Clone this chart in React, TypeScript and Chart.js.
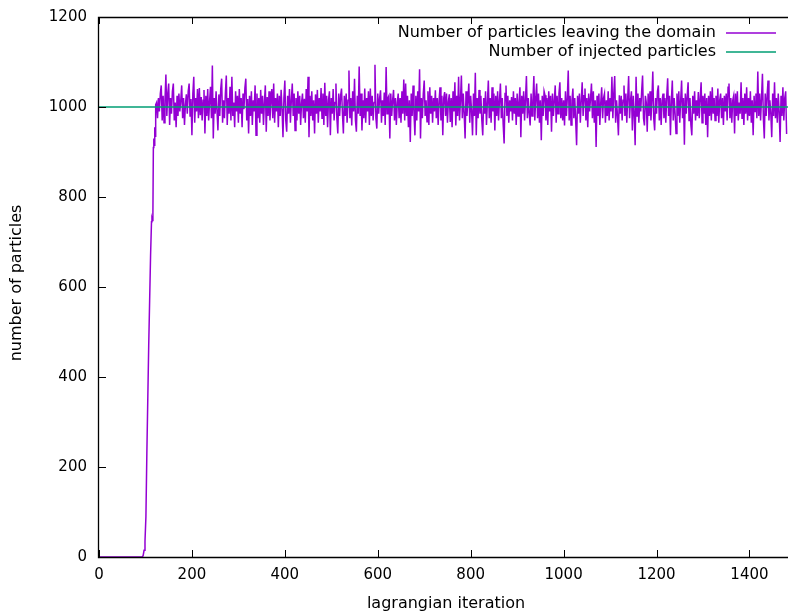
import React, { useEffect, useRef } from "react";
import { Chart, registerables } from "chart.js";

Chart.register(...registerables);

// Axis ticks
const xTicks = [0, 200, 400, 600, 800, 1000, 1200, 1400];
const yTicks = [0, 200, 400, 600, 800, 1000, 1200];
const xMax = 1483;

// Legend / axis texts
const seriesLeaving = "Number of particles leaving the domain";
const seriesInjected = "Number of injected particles";
const xTitle = "lagrangian iteration";
const yTitle = "number of particles";

// Injected particles (constant)
const injectedX = [0, 1483];
const injectedY = [1000, 1000];

// Start-up ramp of particles leaving the domain
const rampX = [0, 93, 95, 97, 99, 101, 103, 105, 107, 109, 111, 113, 114, 115, 116, 117, 118, 119, 120, 121, 122];
const rampY = [0, 0, 3, 15, 35, 90, 230, 350, 470, 570, 670, 745, 752, 748, 760, 910, 930, 915, 955, 935, 1005];

// Fluctuation around 1000 after the ramp, one value every 2 iterations from 124
const noiseStart = 124;
const noiseStep = 2;
const dev124 = [10,-25,20,-10,30,48,-30,25,-35,15,72,-20,30,52,-40,20,-15,35,52,-30,10,-45,25,-20,30,-10,15,48,-25,20,-40,5,28,-15,35,52,-20,18,-63,30,67,-35,20,-10,40,-25,42,-18,22,-30];
const dev224 = [15,38,-59,25,-20,40,-30,12,45,-25,92,-70,20,-15,35,-10,-52,28,-20,40,63,-35,15,-25,30,70,-40,20,-15,45,-30,67,-20,10,-45,35,-10,25,-35,40,-15,20,-45,30,-5,42,63,-30,18,-59];
const dev324 = [25,-20,35,-40,15,-10,48,-63,30,-25,20,-35,38,-15,25,-40,10,48,-55,22,-20,35,-30,15,40,-25,52,-35,20,-10,30,-45,25,-20,38,-5,-67,20,59,-30,-55,25,-15,40,-35,15,52,-20,30,-52];
const dev424 = [20,-30,35,-15,25,-40,10,30,-25,18,-35,40,-10,67,-67,25,-20,35,-30,15,-59,28,-15,38,-35,20,-10,42,-25,30,-40,54,-20,25,-45,15,35,-63,20,-15,40,-30,10,52,-25,-59,30,-20,25,41];
const dev524 = [-15,-59,25,-20,30,-35,15,81,-25,20,-41,35,-10,63,-30,-55,25,-15,90,-20,30,-52,15,-25,41,-35,20,-10,35,-40,41,-20,25,-30,10,94,-25,-48,30,-15,20,37,-35,15,-20,32,-40,89,-15,20];
const dev624 = [25,-70,30,-20,15,38,-30,20,-40,10,30,-25,20,-35,35,-15,61,-30,52,-20,25,-45,15,-78,30,-20,48,-15,-63,25,-30,35,-10,84,-70,20,-25,30,59,-20,15,-33,35,-40,44,-15,25,-35,20,-10];
const dev724 = [37,-25,20,-40,15,44,-30,25,-63,20,33,-20,30,-35,12,28,-33,20,-45,35,-10,55,-41,25,-20,67,-30,15,70,-25,30,-15,-70,35,-20,15,52,-35,25,-10,-63,30,-20,76,-63,20,-25,38,-15,25];
const dev824 = [-30,-63,20,-15,35,-40,10,59,-25,20,-35,44,-10,30,-52,25,-20,35,-30,15,52,-25,20,-40,-81,30,48,-20,25,-35,15,-10,22,-30,35,-15,20,-40,30,-20,10,44,-67,25,-15,35,-30,18,69,-25];
const dev924 = [20,-15,-41,30,-20,15,69,-30,20,52,-25,30,-35,15,-74,25,-20,35,26,-30,20,-40,35,-10,25,-55,30,-20,15,48,-35,25,-15,30,55,-25,20,-30,15,-41,35,-20,20,81,-30,25,-40,15,41,-25];
const dev1024 = [20,-30,-85,25,-15,30,-35,15,55,-20,25,41,-30,20,-45,30,-10,20,52,-25,35,-35,15,-89,25,-20,30,-40,10,44,-25,20,30,-35,15,-20,35,-30,20,-10,67,-25,30,69,-35,15,-20,-63,26,-15];
const dev1124 = [25,-30,15,48,-20,30,-35,20,69,-25,15,35,-52,25,-15,-85,67,-20,30,-35,20,-10,35,70,-25,-41,25,10,-55,30,-20,35,-30,15,79,-25,-52,20,-15,35,48,-30,20,-40,15,30,-25,20,-35,25];
const dev1224 = [64,-20,25,-63,15,59,-30,20,-15,-59,30,-20,35,-35,15,59,-25,20,-84,30,-15,25,55,-30,20,-40,-63,25,-15,35,-30,15,-20,33,-25,20,55,-35,25,-15,30,-40,20,-67,25,-20,35,-30,44,-15];
const dev1324 = [20,-30,25,-20,41,-35,15,30,-25,20,-40,25,-10,30,-30,44,52,-25,20,-35,15,25,-59,30,-20,35,-30,10,-15,55,-25,20,-40,30,-15,44,-30,20,-20,35,-35,15,-63,25,-10,30,-25,79,-20,30];
const dev1424 = [-30,20,74,-25,-70,30,-20,25,59,-30,15,-15,-67,30,-20,55,-25,20,-35,30,-10,-78,25,-20,44,-30,20,35,-60];

const deviations = [
  ...dev124, ...dev224, ...dev324, ...dev424, ...dev524, ...dev624, ...dev724,
  ...dev824, ...dev924, ...dev1024, ...dev1124, ...dev1224, ...dev1324, ...dev1424,
];

const FONT = "'DejaVu Sans', sans-serif";
const PURPLE = "#9400d3";
const GREEN = "#009e73";

const framePlugin = {
  id: "gnuplotFrame",
  afterDatasetsDraw(chart: any) {
    const { ctx, chartArea: a, scales } = chart;
    const xs = scales.x;
    const ys = scales.y;
    ctx.save();
    ctx.strokeStyle = "#000";
    ctx.lineWidth = 1.3;
    ctx.beginPath();
    // border: top, left, bottom
    ctx.moveTo(chart.width, a.top + 0.5);
    ctx.lineTo(a.left - 0.5, a.top + 0.5);
    ctx.lineTo(a.left - 0.5, a.bottom + 0.5);
    ctx.lineTo(chart.width, a.bottom + 0.5);
    ctx.stroke();
    ctx.lineWidth = 1;
    ctx.beginPath();
    for (const v of xTicks) {
      const px = Math.round(xs.getPixelForValue(v)) + 0.5;
      ctx.moveTo(px, a.bottom);
      ctx.lineTo(px, a.bottom - 7);
      ctx.moveTo(px, a.top);
      ctx.lineTo(px, a.top + 7);
    }
    for (const v of yTicks) {
      const py = Math.round(ys.getPixelForValue(v)) + 0.5;
      ctx.moveTo(a.left, py);
      ctx.lineTo(a.left + 7, py);
    }
    ctx.stroke();

    // legend (gnuplot style, top right inside the plot)
    ctx.font = `16px ${FONT}`;
    ctx.textAlign = "right";
    ctx.textBaseline = "middle";
    const rows = [
      { label: seriesLeaving, color: PURPLE, y: 33 },
      { label: seriesInjected, color: GREEN, y: 52 },
    ];
    for (const r of rows) {
      ctx.fillStyle = "#000";
      ctx.fillText(r.label, 716, r.y);
      ctx.strokeStyle = r.color;
      ctx.lineWidth = 1.5;
      ctx.beginPath();
      ctx.moveTo(726, r.y);
      ctx.lineTo(776, r.y);
      ctx.stroke();
    }

    // axis titles
    ctx.fillStyle = "#000";
    ctx.textAlign = "center";
    ctx.textBaseline = "alphabetic";
    ctx.fillText(xTitle, 446, 608);
    ctx.save();
    ctx.translate(21, 283);
    ctx.rotate(-Math.PI / 2);
    ctx.fillText(yTitle, 0, 0);
    ctx.restore();
    ctx.restore();
  },
};

export default function App() {
  const ref = useRef<HTMLCanvasElement | null>(null);

  useEffect(() => {
    const leaving: { x: number; y: number }[] = [];
    rampX.forEach((x, i) => leaving.push({ x, y: rampY[i] }));
    deviations.forEach((d, i) => leaving.push({ x: noiseStart + noiseStep * i, y: 1000 + d }));
    const injected = injectedX.map((x, i) => ({ x, y: injectedY[i] }));

    const chart = new Chart(ref.current as HTMLCanvasElement, {
      type: "line",
      data: {
        datasets: [
          {
            label: seriesInjected,
            data: injected,
            borderColor: GREEN,
            borderWidth: 1.3,
            pointRadius: 0,
            order: 0,
          },
          {
            label: seriesLeaving,
            data: leaving,
            borderColor: PURPLE,
            borderWidth: 1.5,
            pointRadius: 0,
            order: 1,
          },
        ],
      },
      options: {
        responsive: false,
        animation: false,
        layout: { padding: { top: 17, right: 0, left: 0, bottom: 0 } },
        plugins: { legend: { display: false }, tooltip: { enabled: false } },
        elements: { line: { tension: 0 } },
        scales: {
          x: {
            type: "linear",
            min: 0,
            max: xMax,
            grid: { display: false, drawTicks: true, tickLength: 6 },
            border: { display: false },
            afterBuildTicks: (s: any) => {
              s.ticks = xTicks.map((v) => ({ value: v }));
            },
            afterFit: (s: any) => {
              s.height = 55;
            },
            ticks: {
              maxRotation: 0,
              autoSkip: false,
              padding: 3,
              color: "#000",
              font: { family: FONT, size: 15 },
              callback: (v: any) => String(v),
            },
          },
          y: {
            type: "linear",
            min: 0,
            max: 1200,
            grid: { display: false, drawTicks: true, tickLength: 9 },
            border: { display: false },
            afterBuildTicks: (s: any) => {
              s.ticks = yTicks.map((v) => ({ value: v }));
            },
            afterFit: (s: any) => {
              s.width = 99;
            },
            ticks: {
              padding: 3,
              color: "#000",
              font: { family: FONT, size: 15 },
              callback: (v: any) => String(v),
            },
          },
        },
      },
      plugins: [framePlugin],
    });
    return () => chart.destroy();
  }, []);

  return (
    <div style={{ position: "fixed", left: 0, top: 0, width: 788, height: 612, background: "#fff" }}>
      <canvas ref={ref} width={788} height={612} style={{ display: "block" }} />
    </div>
  );
}
